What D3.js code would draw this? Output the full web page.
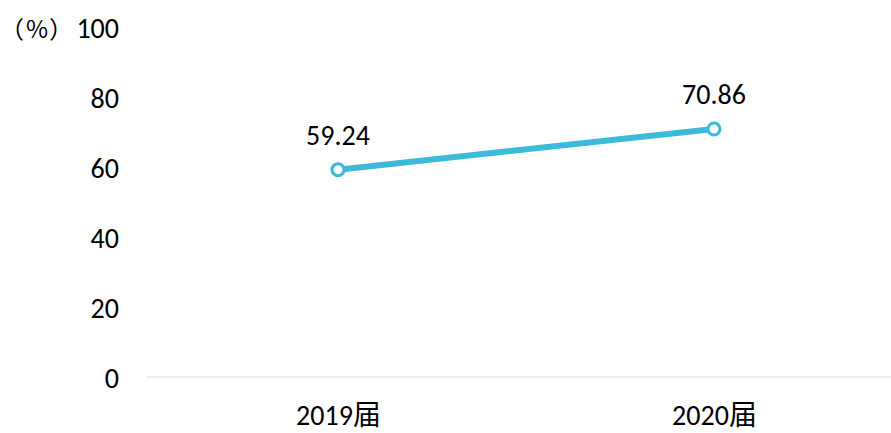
<!DOCTYPE html>
<html><head><meta charset="utf-8">
<script src="https://cdn.jsdelivr.net/npm/d3@7"></script>
<style>
html,body{margin:0;padding:0;background:#fff;}
svg{display:block;}
</style></head>
<body>
<svg id="c" width="891" height="433"></svg>
<script>
const categories = ["2019届", "2020届"];
const values = [59.24, 70.86];
const yTicks = [0, 20, 40, 60, 80, 100];
const unitLabel = "（%）";

const svg = d3.select("#c");
const W = 891, H = 433;
const numFont = "Carlito, Calibri, Lato, sans-serif";
const cjkFont = "'Noto Sans CJK SC', sans-serif";
const color = "#3bbada";

const y = d3.scaleLinear().domain([0, 100]).range([377, 27]);
const x = d3.scalePoint().domain(categories).range([338, 714]);

// baseline axis
svg.append("line").attr("x1", 147).attr("x2", W).attr("y1", y(0)).attr("y2", y(0))
  .attr("stroke", "#d9d9d9").attr("stroke-width", 1.2);

// y axis labels
const yAxis = d3.axisLeft(y).tickValues(yTicks).tickSize(0).tickPadding(0);
const gy = svg.append("g").attr("transform", "translate(119,0)").call(yAxis);
gy.select(".domain").remove();
gy.selectAll("text").attr("font-family", numFont).attr("font-size", 28).attr("fill", "#000")
  .attr("dy", "0.36em");

// unit label, characters spaced like the original
const unitChars = Array.from(unitLabel);
const unitX = [0, 26, 49];
const ut = svg.append("text").attr("y", y(100) + 11)
  .attr("font-family", cjkFont).attr("font-size", 24).attr("fill", "#000");
ut.selectAll("tspan").data(unitChars).join("tspan")
  .attr("x", (d, i) => unitX[i]).text(d => d);

// x axis labels
const xAxis = d3.axisBottom(x).tickSize(0).tickPadding(0);
const gx = svg.append("g").attr("transform", "translate(0,425)").call(xAxis);
gx.select(".domain").remove();
gx.selectAll("text").attr("dy", 0).attr("font-family", numFont + ", " + cjkFont)
  .attr("font-size", 28).attr("fill", "#000");

const data = categories.map((c, i) => ({c, v: values[i]}));

svg.append("path").datum(data)
  .attr("d", d3.line().x(d => x(d.c)).y(d => y(d.v)))
  .attr("fill", "none").attr("stroke", color).attr("stroke-width", 6).attr("stroke-linecap", "round");

svg.selectAll("circle.pt").data(data).join("circle").attr("class", "pt")
  .attr("cx", d => x(d.c)).attr("cy", d => y(d.v)).attr("r", 6)
  .attr("fill", "#fff").attr("stroke", color).attr("stroke-width", 3);

svg.selectAll("text.lbl").data(data).join("text").attr("class", "lbl")
  .attr("x", d => x(d.c)).attr("y", d => y(d.v) - 25)
  .attr("text-anchor", "middle").attr("font-family", numFont).attr("font-size", 28).attr("fill", "#000")
  .text(d => d.v.toFixed(2));
</script>
</body></html>
